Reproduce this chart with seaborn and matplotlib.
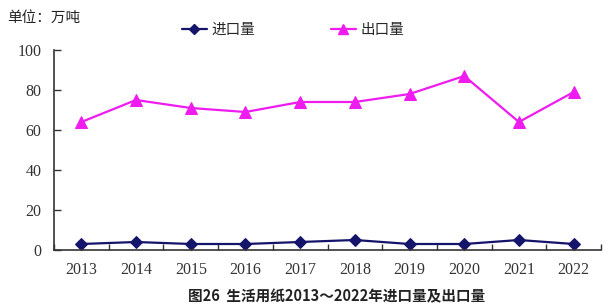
import matplotlib
matplotlib.use("Agg")
import matplotlib.pyplot as plt
import seaborn as sns
import pandas as pd
from matplotlib.lines import Line2D
from matplotlib.ticker import FixedLocator

years = ["2013", "2014", "2015", "2016", "2017", "2018", "2019", "2020", "2021", "2022"]
imports = [3, 4, 3, 3, 4, 5, 3, 3, 5, 3]
exports = [64, 75, 71, 69, 74, 74, 78, 87, 64, 79]
series_names = ["进口量", "出口量"]
yticks = [0, 20, 40, 60, 80, 100]
unit_label = "单位：万吨"
caption = "图26  生活用纸2013～2022年进口量及出口量"

sns.set_theme(style="white")
plt.rcParams['font.family'] = ['Noto Sans CJK SC', 'DejaVu Sans']

df = pd.DataFrame({"year": years * 2,
                   "value": imports + exports,
                   "series": [series_names[0]] * len(years) + [series_names[1]] * len(years)})

fig = plt.figure(figsize=(6.12, 3.08), dpi=100)
ax = fig.add_axes([54/612, 1-250/308, (601-54)/612, 200/308])

c_imp = "#15146b"
c_exp = "#ee1cee"
sns.lineplot(data=df[df.series == series_names[0]], x="year", y="value", ax=ax,
             color=c_imp, marker="D", markersize=6, linewidth=1.6,
             markeredgecolor=c_imp, legend=False)
sns.lineplot(data=df[df.series == series_names[1]], x="year", y="value", ax=ax,
             color=c_exp, marker="^", markersize=8, linewidth=1.6,
             markeredgecolor=c_exp, legend=False)

ax.set_xlim(-0.5, len(years) - 0.5)
ax.set_ylim(0, 100)
ax.set_yticks(yticks)
ax.set_xticks(range(len(years)))
ax.set_xticklabels(years)
ax.xaxis.set_minor_locator(FixedLocator([i + 0.5 for i in range(-1, len(years))]))
ax.tick_params(axis="x", which="major", length=0, pad=9)
ax.tick_params(axis="x", which="minor", direction="in", length=4, width=1, color="#333333", bottom=True)
ax.tick_params(axis="y", direction="in", length=5, width=1, color="#333333", left=True, pad=9)
for lab in ax.get_xticklabels() + ax.get_yticklabels():
    lab.set_fontfamily("Liberation Serif")
    lab.set_fontsize(11.5)
    lab.set_color("#333333")
ax.set_xlabel("")
ax.set_ylabel("")
for s in ["top", "right"]:
    ax.spines[s].set_visible(False)
for s in ["left", "bottom"]:
    ax.spines[s].set_color("#333333")
    ax.spines[s].set_linewidth(1.2)
ax.grid(False)

handles = [Line2D([], [], color=c_imp, marker="D", markersize=5, linewidth=1.6),
           Line2D([], [], color=c_exp, marker="^", markersize=7, linewidth=1.6)]
fig.legend(handles, series_names, loc="center left", bbox_to_anchor=(182/612, 1-30/308),
           ncol=2, frameon=False, fontsize=10.5, handlelength=1.7, handletextpad=0.3,
           columnspacing=5.2, borderaxespad=0, borderpad=0)

fig.text(7/612, 1-18/308, unit_label, fontsize=10.5, va="center", ha="left", color="#222222")
fig.text(337/612, 1-296/308, caption, fontsize=10.5, fontweight="bold", va="center", ha="center", color="#222222")

fig.savefig("out.png", dpi=100)
